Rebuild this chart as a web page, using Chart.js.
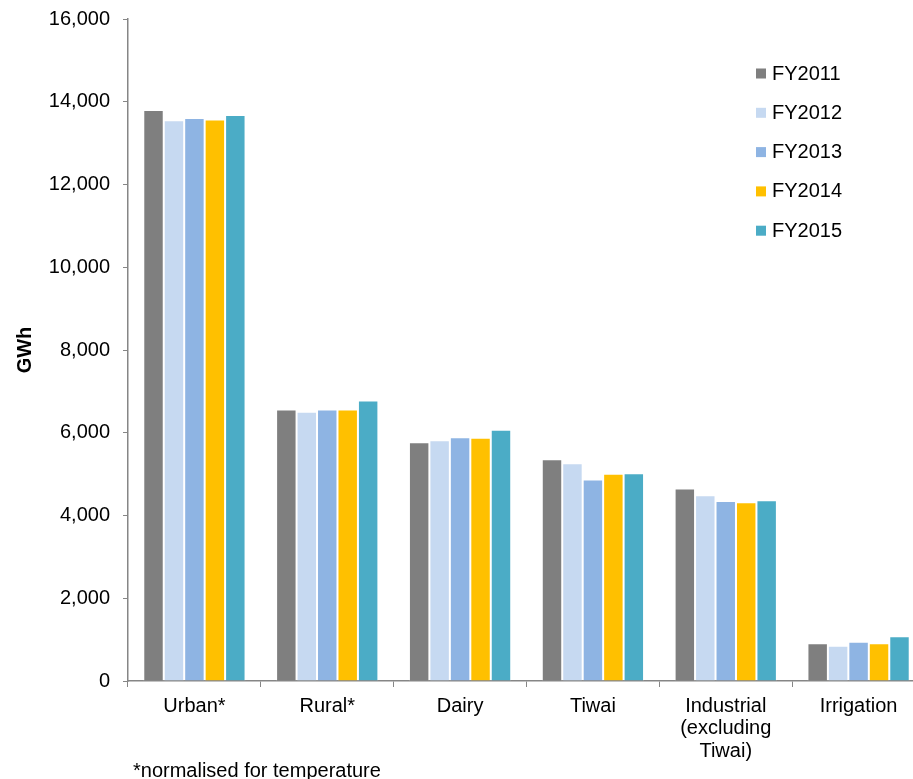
<!DOCTYPE html>
<html>
<head>
<meta charset="utf-8">
<script src="https://cdn.jsdelivr.net/npm/chart.js@4.4.0/dist/chart.umd.min.js"></script>
<style>
  html, body { margin: 0; padding: 0; background: #fff; overflow: hidden; }
  canvas { display: block; }
</style>
</head>
<body>
<canvas id="chart" width="928" height="779"></canvas>
<script>
// Electricity demand by sector, GWh
const categories = ['Urban*', 'Rural*', 'Dairy', 'Tiwai', ['Industrial', '(excluding', 'Tiwai)'], 'Irrigation'];
const seriesNames = ['FY2011', 'FY2012', 'FY2013', 'FY2014', 'FY2015'];
const seriesColors = ['#7F7F7F', '#C6D9F1', '#8EB4E3', '#FFC000', '#4BACC6'];
const fy2011 = [13800, 6560, 5770, 5360, 4650, 910];
const fy2012 = [13550, 6510, 5820, 5260, 4490, 850];
const fy2013 = [13610, 6560, 5890, 4870, 4350, 950];
const fy2014 = [13570, 6560, 5880, 5010, 4320, 910];
const fy2015 = [13680, 6780, 6070, 5020, 4370, 1080];
const yMin = 0, yMax = 16000, yStep = 2000;
const footnote = '*normalised for temperature';

const FONT = "'Liberation Sans', Arial, sans-serif";
const AXIS_GREY = '#868686';

Chart.defaults.font.family = FONT;
Chart.defaults.font.size = 20;
Chart.defaults.color = '#000';

const seriesValues = [fy2011, fy2012, fy2013, fy2014, fy2015];

// Legend inside the plot on the right, plus the footnote under the axis
const extras = {
  id: 'extras',
  afterDraw(chart) {
    const ctx = chart.ctx;
    ctx.save();
    ctx.font = '20px ' + FONT;
    ctx.textBaseline = 'alphabetic';
    ctx.textAlign = 'left';
    chart.data.datasets.forEach((ds, i) => {
      const y = 68.5 + i * 39.3;
      ctx.fillStyle = ds.backgroundColor;
      ctx.fillRect(756, y, 10, 10);
      ctx.fillStyle = '#000';
      ctx.fillText(ds.label, 772, y + 11);
    });
    ctx.fillText(footnote, 133, 777);
    ctx.restore();
  }
};

new Chart(document.getElementById('chart'), {
  type: 'bar',
  data: {
    labels: categories,
    datasets: seriesNames.map((name, i) => ({
      label: name,
      data: seriesValues[i],
      backgroundColor: seriesColors[i],
      borderColor: 'rgba(255,255,255,0.55)',
      borderWidth: 1,
      categoryPercentage: 0.77,
      barPercentage: 1.0
    }))
  },
  options: {
    responsive: false,
    animation: false,
    layout: { padding: { left: 0, right: 3, top: 19, bottom: 0 } },
    plugins: { legend: { display: false }, tooltip: { enabled: false } },
    scales: {
      x: {
        grid: { display: true, drawOnChartArea: false, drawTicks: true, tickLength: 6, color: AXIS_GREY, offset: true },
        border: { display: true, color: AXIS_GREY, width: 1.5 },
        ticks: { padding: 8, maxRotation: 0, autoSkip: false, font: { size: 20, lineHeight: 1.13 }, color: '#000' },
        afterFit(scale) { scale.height = 98; scale.paddingLeft = 0; scale.paddingRight = 0; }
      },
      y: {
        min: yMin,
        max: yMax,
        ticks: { stepSize: yStep, padding: 13, color: '#000', font: { size: 20 } },
        grid: { display: true, drawOnChartArea: false, drawTicks: true, tickLength: 5, color: AXIS_GREY },
        border: { display: true, color: AXIS_GREY, width: 1.5 },
        title: { display: true, text: 'GWh', font: { size: 20, weight: 'bold' }, color: '#000', padding: { top: 13, bottom: 0 } },
        afterFit(scale) { scale.width = 128; scale.paddingTop = 0; scale.paddingBottom = 0; }
      }
    }
  },
  plugins: [extras]
});
</script>
</body>
</html>
